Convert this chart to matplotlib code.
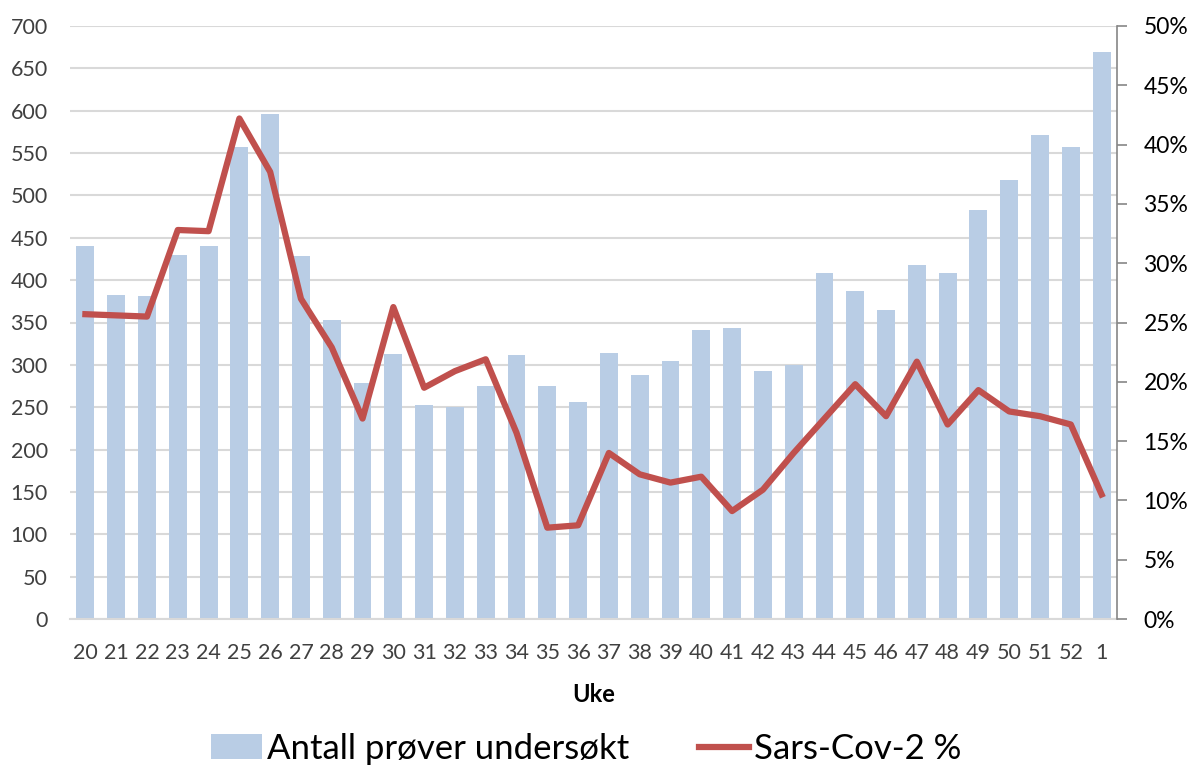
import matplotlib
matplotlib.use('Agg')
from matplotlib import pyplot as plt
from matplotlib.ticker import FuncFormatter
import numpy as np

plt.rcParams['font.family'] = ['Lato', 'DejaVu Sans']

uke = ['20', '21', '22', '23', '24', '25', '26', '27', '28', '29', '30', '31',
       '32', '33', '34', '35', '36', '37', '38', '39', '40', '41', '42', '43',
       '44', '45', '46', '47', '48', '49', '50', '51', '52', '1']
antall = [440, 382, 381, 430, 440, 557, 596, 428, 353, 278, 313, 253,
          250, 275, 312, 275, 256, 314, 288, 305, 341, 344, 293, 300,
          409, 387, 365, 418, 409, 483, 518, 571, 557, 669]
sars = [25.7, 25.6, 25.5, 32.8, 32.7, 42.2, 37.7, 27.0, 22.9, 16.9, 26.3, 19.5,
        20.9, 21.9, 15.7, 7.7, 7.9, 14.0, 12.2, 11.5, 12.0, 9.1, 10.9, 14.0,
        16.9, 19.8, 17.1, 21.7, 16.4, 19.3, 17.5, 17.1, 16.4, 10.5]

x = np.arange(len(uke))

fig = plt.figure(figsize=(11.92, 7.67), dpi=100)
ax = fig.add_axes([70/1192, 1-619/767, 1047/1192, 593/767])
ax2 = ax.twinx()

ax.bar(x, antall, width=0.58, color='#B9CDE5', label='Antall prøver undersøkt', zorder=2)
ax2.plot(x, sars, color='#C0504D', lw=4.5, label='Sars-Cov-2 %', zorder=3)

ax.set_xlim(-0.5, len(uke) - 0.5)
ax.set_ylim(0, 700)
ax.set_yticks(range(0, 701, 50))
ax2.set_ylim(0, 50)
ax2.set_yticks(range(0, 51, 5))
ax2.yaxis.set_major_formatter(FuncFormatter(lambda v, p: f'{v:.0f}%'))

ax.set_xticks(x)
ax.set_xticklabels(uke)
ax.yaxis.grid(True, color='#D9D9D9', lw=1.5, zorder=0)
ax.set_axisbelow(True)

for a in (ax, ax2):
    for s in ('top', 'left'):
        a.spines[s].set_visible(False)
ax.spines['right'].set_visible(False)
ax2.spines['bottom'].set_visible(False)
ax.spines['bottom'].set_color('#D9D9D9')
ax.spines['bottom'].set_linewidth(1.5)
ax2.spines['right'].set_color('#868686')
ax2.spines['right'].set_linewidth(1.2)

ax.tick_params(axis='y', length=0, labelsize=15.5, labelcolor='#404040', pad=16)
ax.tick_params(axis='x', length=0, labelsize=15.5, labelcolor='#404040', pad=17)
ax2.tick_params(axis='y', length=7, width=1.2, color='#868686', labelsize=16.5,
                labelcolor='#000000', pad=12)

ax.set_xlabel('Uke', fontsize=17, fontweight='bold', labelpad=15)

h1, l1 = ax.get_legend_handles_labels()
h2, l2 = ax2.get_legend_handles_labels()
fig.legend(h1 + h2, l1 + l2, loc='lower center', bbox_to_anchor=(0.492, -0.038),
           ncol=2, frameon=False, fontsize=25, handlelength=1.45, handleheight=0.72,
           columnspacing=2.0, handletextpad=0.15)

fig.savefig('out.png', dpi=100)
